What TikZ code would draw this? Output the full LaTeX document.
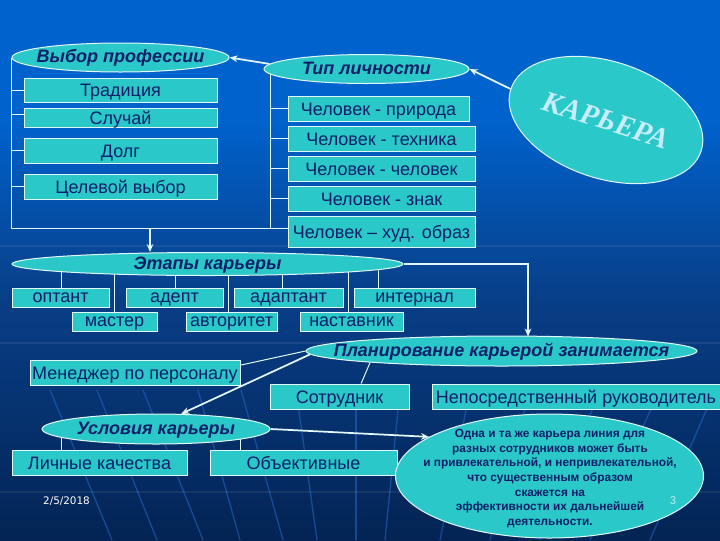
\documentclass[tikz,border=0pt]{standalone}
\usepackage{fontspec}
\setmainfont{Liberation Sans}
\newfontfamily\karfont{Liberation Serif}
\newfontfamily\datefont{DejaVu Sans}
\usetikzlibrary{shapes.geometric,arrows.meta,backgrounds}

\definecolor{tealfill}{RGB}{42,200,200}
\definecolor{inknavy}{RGB}{14,30,104}
\definecolor{wire}{RGB}{226,248,248}
\definecolor{bgtop}{RGB}{0,98,204}
\definecolor{bgmid}{RGB}{8,62,135}
\definecolor{bgbot}{RGB}{3,36,84}
\definecolor{streakblue}{RGB}{40,104,196}

\tikzset{every picture/.style={line width=0.75pt},
	sz/.style 2 args={minimum width=#1*0.75pt,minimum height=#2*0.75pt},
	tbox/.style={draw=wire,fill=tealfill,text=inknavy,inner sep=0pt,text height=9.8pt,text depth=0pt,font=\fontsize{13.5}{15}\selectfont},
	rowbox/.style={tbox,text height=8.2pt},
	oval/.style={ellipse,draw=wire,fill=tealfill,text=inknavy,inner sep=-30pt,text height=8.2pt,text depth=0pt,font=\fontsize{13.5}{15}\selectfont\bfseries\itshape},
	link/.style={draw=wire,line width=0.75pt},
	arrowlink/.style={link,line width=1pt,-{Stealth[length=6pt,width=5pt]}},
	thicklink/.style={arrowlink,line width=1.3pt},
	streak/.style={streakblue,opacity=0.55,line width=1pt},
	hazeline/.style={white,opacity=0.07,line width=0.9pt}
}

\begin{document}
\begin{tikzpicture}[x=0.75pt,y=0.75pt,yscale=-1]
	\useasboundingbox (0,0) rectangle (720,540);

	% upper block
	\node[oval,sz={217}{29}] (prof) at (120.5,57.5) {Выбор профессии};
	\node[oval,sz={205}{29}] (typ) at (366.5,69) {Тип личности};
	\node[tbox,sz={193}{24}] (trad) at (120.5,90) {Традиция};
	\node[tbox,sz={193}{19}] (slu) at (120.5,117.5) {Случай};
	\node[tbox,sz={193}{25}] (dolg) at (120.5,150.5) {Долг};
	\node[tbox,sz={193}{25}] (cel) at (120.5,186.5) {Целевой выбор};
	\node[tbox,sz={181}{25}] (chP) at (378.5,108.5) {Человек - природа};
	\node[tbox,sz={187}{25}] (chT) at (381.5,138.5) {Человек - техника};
	\node[tbox,sz={187}{25}] (chC) at (381.5,168.5) {Человек - человек};
	\node[tbox,sz={187}{25}] (chZ) at (381.5,198.5) {Человек - знак};
	\node[tbox,sz={187}{31}] (chH) at (381.5,231.5) {Человек – худ. образ};
	\node[oval,rotate=-18,sz={200}{117},text=white!78!cyan,text height=14.5pt,font=\karfont\fontsize{22}{24}\selectfont\bfseries\itshape] (kar) at (606,120) {КАРЬЕРА};
	\coordinate (brk) at (288,228);
	\coordinate (brktyp) at (270,69);

	% stages
	\node[oval,sz={391}{23}] (stage) at (207.5,264) {Этапы карьеры};
	\node[rowbox,sz={97}{19}] (opt) at (60.5,297.5) {оптант};
	\node[rowbox,sz={97}{19}] (ade) at (174.5,297.5) {адепт};
	\node[rowbox,sz={109}{19}] (ada) at (288.5,297.5) {адаптант};
	\node[rowbox,sz={121}{19}] (int) at (414.5,297.5) {интернал};
	\node[rowbox,sz={85}{19}] (mas) at (114.5,321.5) {мастер};
	\node[rowbox,sz={91}{19}] (avt) at (231.5,321.5) {авторитет};
	\node[rowbox,sz={103}{19}] (nas) at (351.5,321.5) {наставник};

	% planning
	\node[oval,sz={391}{30}] (plan) at (501.5,351) {Планирование карьерой занимается};
	\node[tbox,sz={210}{25}] (men) at (135,372.5) {Менеджер по персоналу};
	\node[tbox,sz={139}{25}] (sotr) at (339.5,396.5) {Сотрудник};
	\node[tbox,sz={288}{25}] (nep) at (576,396.5) {Непосредственный руководитель};
	\coordinate (planin) at (528,336.5);

	% conditions
	\node[oval,sz={228}{30}] (usl) at (156,429) {Условия карьеры};
	\node[tbox,sz={175}{25}] (lich) at (99.5,462.5) {Личные качества};
	\node[tbox,sz={187}{25}] (obj) at (303.5,462.5) {Объективные};
	\node[oval,sz={308}{124}] (big) at (549.5,476) {};
	\node[text=inknavy,align=center,inner sep=0pt,font=\fontsize{8.9}{10.9}\selectfont\bfseries] (bigtxt) at (550,478.5) {Одна и та же карьера линия для\\разных сотрудников может быть\\и привлекательной, и непривлекательной,\\что существенным образом\\скажется  на\\эффективности их дальнейшей\\деятельности.};
	\node[text=white!70!tealfill,inner sep=0pt,font=\fontsize{8.5}{10}\selectfont] (num) at (673,501) {3};
	\node[text=white,inner sep=0pt,font=\datefont\fontsize{7.8}{9}\selectfont] (dat) at (66.5,501) {2/5/2018};

	% background and the lines behind the shapes
	\begin{pgfonlayer}{background}
		\fill[bgtop] (0,0) rectangle (720,121);
		\fill[top color=bgtop,bottom color=bgmid] (0,120) rectangle (720,301);
		\fill[top color=bgmid,bottom color=bgbot] (0,300) rectangle (720,540);
		\foreach \a/\b in {50/112,97/157,143/203,198/240,241/283,296/317,356/356,400/385,470/440,530/490,600/540,660/590,715/650}
			\draw[streak] (\a,390) -- (\b,540);
		\foreach \y in {246,343,492}
			\draw[hazeline] (0,\y) -- (720,\y);

		\draw[link] (prof.west) |- (brk);
		\draw[link] (brktyp) -- (brktyp |- brk);
		\foreach \b/\a in {trad/180,slu/178.2,dolg/180,cel/180}
			\draw[link] (\b.\a) -- (\b.\a -| prof.west);
		\foreach \b in {chP,chT,chC,chZ}
			\draw[link] (\b.west) -- (\b.west -| brktyp);
		\foreach \b/\x in {opt/61,mas/114.5,ade/175,avt/228,ada/282,nas/348,int/378}
			\draw[link] (\x,0 |- stage.center) -- (\x,0 |- \b.north);
		\foreach \b/\x in {lich/61,obj/240}
			\draw[link] (\x,0 |- usl.center) -- (\x,0 |- \b.north);
	\end{pgfonlayer}

	% connectors
	\draw[thicklink] (typ.177.8) -- (prof.east);
	\draw[thicklink] (kar.west) -- (typ.east);
	\draw[thicklink] (brk -| 150,0) -- (stage.north -| 150,0);
	\draw[arrowlink] (stage.east) -| (planin);
	\draw[link] (plan.west) -- (men.4);
	\draw[thicklink] (plan.181) -- (usl.31);
	\draw[link] (plan.185.3) -- (sotr.31);
	\draw[thicklink] (usl.east) -- (big.162);
\end{tikzpicture}
\end{document}
